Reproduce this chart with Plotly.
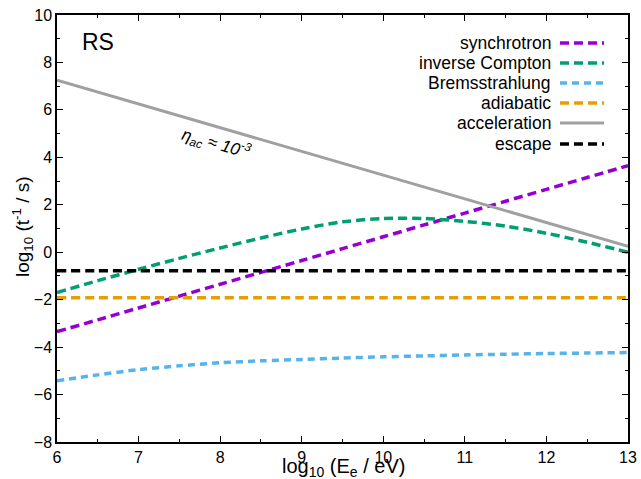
import plotly.graph_objects as go

# ---- data ----
energy = [6.0, 6.5, 7.0, 7.5, 8.0, 8.5, 9.0, 9.5, 10.0, 10.5, 11.0, 11.5, 12.0, 12.5, 13.0]
synchrotron = [-3.35, -2.85, -2.35, -1.85, -1.35, -0.85, -0.35, 0.15, 0.65, 1.15, 1.65, 2.15, 2.65, 3.15, 3.65]
inverse_compton = [-1.7, -1.2, -0.72, -0.26, 0.18, 0.6, 0.98, 1.28, 1.42, 1.42, 1.3, 1.1, 0.8, 0.42, 0.0]
bremsstrahlung = [-5.42, -5.17, -4.95, -4.79, -4.66, -4.58, -4.52, -4.46, -4.41, -4.37, -4.33, -4.3, -4.27, -4.25, -4.23]
adiabatic = [-1.92] * len(energy)
acceleration_x = [6.0, 13.0]
acceleration = [7.25, 0.25]
escape = [-0.78] * len(energy)

names = ["synchrotron", "inverse Compton", "Bremsstrahlung", "adiabatic", "acceleration", "escape"]
colors = ["#9400D3", "#009E73", "#56B4E9", "#E69F00", "#A0A0A0", "#000000"]
dashes = ["9px,5px", "9px,5px", "7px,5px", "9px,5px", "solid", "9px,5px"]

FONT = "Liberation Sans, Arial, sans-serif"

fig = go.Figure()
series = [
    (energy, synchrotron),
    (energy, inverse_compton),
    (energy, bremsstrahlung),
    (energy, adiabatic),
    (acceleration_x, acceleration),
    (energy, escape),
]
for (xs, ys), name, c, d in zip(series, names, colors, dashes):
    fig.add_trace(go.Scatter(
        x=xs, y=ys, mode="lines", name=name,
        line=dict(color=c, width=3 if name == "acceleration" else 3.5, dash=d, shape="spline", smoothing=0.8),
        showlegend=False, hoverinfo="skip",
    ))

# plot area in window pixels
L, R, T, B = 57, 628, 15, 442
W, H = 641, 479
def px(xp):
    return (xp - L) / (R - L)
def py(yp):
    return (B - yp) / (B - T)

rows = [43, 63, 83, 103, 123, 144]
for yrow, name, c, d in zip(rows, names, colors, dashes):
    fig.add_annotation(x=px(553), y=py(yrow), xref="paper", yref="paper",
                       text=name, showarrow=False, xanchor="right", yanchor="middle",
                       font=dict(family=FONT, size=17.5, color="black"))
    fig.add_shape(type="line", xref="paper", yref="paper",
                  x0=px(560), x1=px(604), y0=py(yrow), y1=py(yrow),
                  line=dict(color=c, width=3 if name == "acceleration" else 3.5, dash=d))

fig.add_annotation(x=6.28, y=8.85, text="RS", showarrow=False, xanchor="left", yanchor="middle",
                   font=dict(family=FONT, size=23, color="black"))
fig.add_annotation(x=7.95, y=4.6, text="<i>η<sub>ac</sub> ≈ 10<sup>-3</sup></i>", showarrow=False,
                   textangle=16, font=dict(family=FONT, size=17, color="black"))

# axis titles
fig.add_annotation(x=px(343), y=py(467), xref="paper", yref="paper",
                   text="log<sub>10</sub> (E<sub>e</sub> / eV)", showarrow=False,
                   xanchor="center", yanchor="middle",
                   font=dict(family=FONT, size=20, color="black"))
fig.add_annotation(x=px(22), y=py(227), xref="paper", yref="paper",
                   text="log<sub>10</sub> (t<sup>-1</sup> / s)", showarrow=False,
                   textangle=-90, xanchor="center", yanchor="middle",
                   font=dict(family=FONT, size=19, color="black"))

axis_common = dict(
    showline=True, linecolor="black", linewidth=1.5, mirror="ticks",
    ticks="inside", ticklen=6, tickwidth=1, tickcolor="black",
    showgrid=False, zeroline=False, automargin=False, ticklabeloverflow="allow",
    tickfont=dict(family=FONT, size=16, color="black"),
)
fig.update_xaxes(range=[6, 13], dtick=1, tick0=6,
                 minor=dict(dtick=0.5, ticks="inside", ticklen=3, tickcolor="black"),
                 **axis_common)
fig.update_yaxes(range=[-8, 10], dtick=2, tick0=-8,
                 minor=dict(dtick=1, ticks="inside", ticklen=3, tickcolor="black"),
                 **axis_common)

fig.update_layout(
    width=W, height=H,
    margin=dict(l=L, r=W - R, t=T, b=H - B),
    paper_bgcolor="white", plot_bgcolor="white",
    showlegend=False,
)

fig.write_html("out.html", config={"displayModeBar": False},
               post_script="document.body.style.margin='0';document.body.style.overflow='hidden';")
